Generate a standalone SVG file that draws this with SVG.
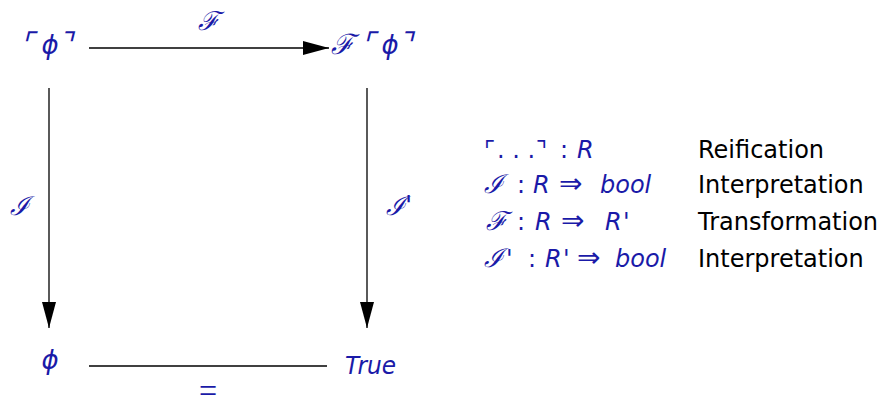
<svg xmlns="http://www.w3.org/2000/svg" width="884" height="395" viewBox="0 0 884 395">
<defs>
<marker id="ah" markerWidth="26" markerHeight="14" refX="26" refY="7" orient="auto" markerUnits="userSpaceOnUse">
<path d="M0,0 L26,7 L0,14 Z" fill="#000"/>
</marker>
<style>
.m{font-family:"DejaVu Serif",serif;font-style:italic;fill:#1a1aa8;font-size:26px}
.p{font-family:"DejaVu Sans",sans-serif;font-style:italic;fill:#1a1aa8;font-size:26px}
.s{font-family:"DejaVu Sans",sans-serif;fill:#1a1aa8;font-size:24px}
.i{font-style:italic}
.k{font-family:"DejaVu Sans",sans-serif;font-style:normal;font-size:28px}
.t{font-family:"DejaVu Sans",sans-serif;fill:#000;font-size:24px}
.c{stroke:#000;stroke-width:1.3;fill:none}
</style>
</defs>
<g id="connectors">
<line class="c" x1="89" y1="48" x2="329" y2="48" marker-end="url(#ah)"/>
<line class="c" x1="49" y1="88" x2="49" y2="328" marker-end="url(#ah)"/>
<line class="c" x1="367" y1="88" x2="367" y2="328" marker-end="url(#ah)"/>
<line class="c" x1="89" y1="366" x2="327" y2="366" stroke="#333"/>
<text class="m" x="208" y="30" text-anchor="middle" font-size="28">ℱ</text>
<text class="m" x="19" y="215" text-anchor="middle" font-size="28">ℐ</text>
<text class="m" y="215" font-size="28"><tspan x="386">ℐ</tspan><tspan x="405" font-family="DejaVu Sans" font-size="26">'</tspan></text>
<text class="s" transform="translate(208,405) scale(1,1.95)" text-anchor="middle" font-size="24" font-weight="200">=</text>
</g>
<g id="n1"><text class="m" y="54"><tspan x="20" font-size="30">⌜</tspan><tspan x="50" text-anchor="middle" class="p">ϕ</tspan><tspan x="58" font-size="30">⌝</tspan></text></g>
<g id="n2"><text class="m" y="54"><tspan x="331" font-size="28">ℱ</tspan><tspan x="361" font-size="30">⌜</tspan><tspan x="390" text-anchor="middle" class="p">ϕ</tspan><tspan x="398" font-size="30">⌝</tspan></text></g>
<g id="n3"><text class="p" x="50" y="369" text-anchor="middle">ϕ</text></g>
<g id="n4"><text class="s i" x="345" y="374" font-size="27" textLength="51" lengthAdjust="spacingAndGlyphs">True</text></g>
<g id="legend">
<text class="s" y="158"><tspan x="484">⌜</tspan><tspan x="497">. . .</tspan><tspan x="536">⌝</tspan><tspan x="560">:</tspan><tspan x="577" class="i">R</tspan></text>
<text class="s" y="193"><tspan x="484" font-family="DejaVu Serif" class="i" font-size="26">ℐ</tspan><tspan x="517">:</tspan><tspan x="533" class="i">R</tspan><tspan x="559" class="k">⇒</tspan><tspan x="600" class="i">bool</tspan></text>
<text class="s" y="230"><tspan x="486" font-family="DejaVu Serif" class="i" font-size="26">ℱ</tspan><tspan x="517">:</tspan><tspan x="535" class="i">R</tspan><tspan x="561" class="k">⇒</tspan><tspan x="605" class="i">R</tspan><tspan x="623" class="i">'</tspan></text>
<text class="s" y="267"><tspan x="484" font-family="DejaVu Serif" class="i" font-size="26">ℐ</tspan><tspan x="506" class="i">'</tspan><tspan x="528">:</tspan><tspan x="545" class="i">R</tspan><tspan x="563" class="i">'</tspan><tspan x="577" class="k">⇒</tspan><tspan x="615" class="i">bool</tspan></text>
<text class="t" x="698" y="158">Reification</text>
<text class="t" x="698" y="193">Interpretation</text>
<text class="t" x="698" y="230">Transformation</text>
<text class="t" x="698" y="267">Interpretation</text>
</g>
</svg>
